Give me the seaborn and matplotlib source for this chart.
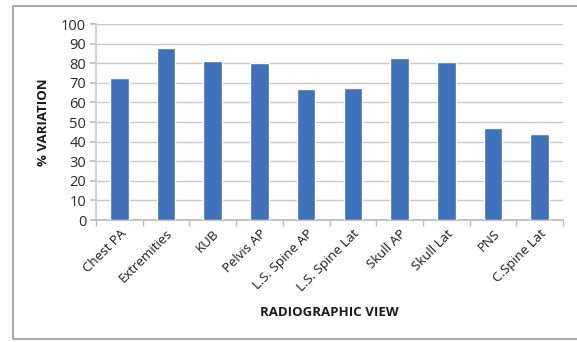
import matplotlib
matplotlib.use("Agg")
import matplotlib.pyplot as plt
import seaborn as sns
import pandas as pd
from matplotlib.patches import Rectangle

categories = ["Chest PA", "Extremities", "KUB", "Pelvis AP", "L.S. Spine AP",
              "L.S. Spine Lat", "Skull AP", "Skull Lat", "PNS", "C.Spine Lat"]
values = [72.4, 87.9, 81.0, 80.3, 66.7, 67.2, 82.8, 80.4, 46.8, 44.0]
yticks = list(range(0, 101, 10))

df = pd.DataFrame({"view": categories, "variation": values})

sns.set_theme(style="white")
plt.rcParams['font.family'] = ['Open Sans', 'DejaVu Sans']

fig = plt.figure(figsize=(5.77, 3.42), dpi=100)
ax = fig.add_axes([96/577, 1-220/342, (563-96)/577, (220-24)/342])

sns.barplot(data=df, x="view", y="variation", color="#3F72BA", width=0.4,
            saturation=1, ax=ax, zorder=3)

ax.set_ylim(0, 100)
ax.set_xlim(-0.5, len(categories) - 0.5)
ax.set_yticks(yticks)
ax.set_yticklabels([str(t) for t in yticks], fontsize=10.5, color="#2a2a2a")
ax.yaxis.grid(True, color="#c8c8c8", linewidth=1, zorder=0)
ax.set_axisbelow(True)

ax.set_xticks(range(len(categories)))
ax.set_xticklabels(categories, rotation=45, ha="right", rotation_mode="anchor",
                   fontsize=9.5, color="#1a1a1a")
ax.tick_params(axis="x", length=0, pad=5)
ax.tick_params(axis="y", length=4, color="#bbbbbb", left=True, pad=3)
ax.set_xticks([i - 0.5 for i in range(len(categories) + 1)], minor=True)
ax.tick_params(axis="x", which="minor", length=4, color="#bbbbbb", bottom=True)

for s in ["top", "right"]:
    ax.spines[s].set_visible(False)
ax.spines["left"].set_color("#cccccc")
ax.spines["bottom"].set_color("#bbbbbb")

ax.set_xlabel("RADIOGRAPHIC VIEW", fontsize=9.5, fontweight="bold", color="#1a1a1a", labelpad=9)
ax.set_ylabel("% VARIATION", fontsize=9.5, fontweight="bold", color="#1a1a1a", labelpad=8)

fig.patches.append(Rectangle((13/577, 3/342), 1.0, 1-9/342, transform=fig.transFigure,
                             fill=False, edgecolor="#999999", linewidth=1.2))

fig.savefig("out.png", dpi=100)
